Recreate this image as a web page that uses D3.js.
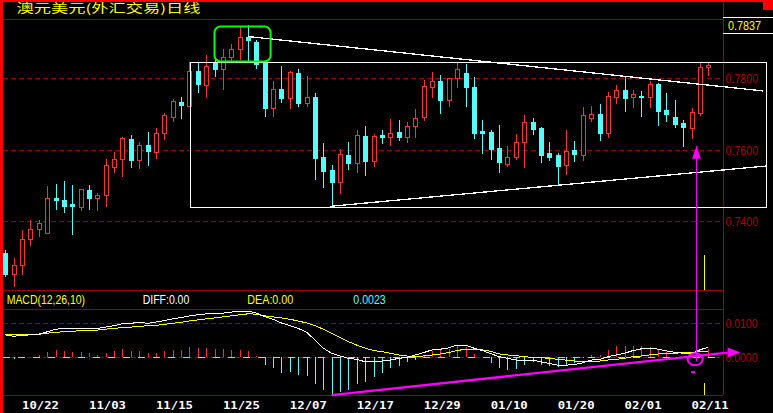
<!DOCTYPE html>
<html><head><meta charset="utf-8">
<script src="https://cdn.jsdelivr.net/npm/d3@7/dist/d3.min.js"></script>
<style>html,body{margin:0;padding:0;background:#000;overflow:hidden}svg{display:block}</style>
</head><body>
<svg id="c" width="773" height="413"></svg>
<script>
// ---------------- data ----------------
const title = "澳元美元(外汇交易)日线";
const lastPrice = "0.7837";
const dateLabels = ["10/22","11/03","11/15","11/25","12/07","12/17","12/29","01/10","01/20","02/01","02/11"];
const dateIdx = [2,10,18,26,34,42,50,58,66,74,82];
const priceTicks = [0.78,0.76,0.74];
const macdTicks = [0.01,0];
const open = [0.7310,0.7252,0.7277,0.7350,0.7378,0.7366,0.7464,0.7459,0.7448,0.7439,
0.7487,0.7464,0.7473,0.7551,0.7573,0.7629,0.7571,0.7613,0.7593,0.7646,
0.7691,0.7733,0.7722,0.7820,0.7780,0.7842,0.7825,0.7859,0.7881,0.7915,
0.7901,0.7842,0.7716,0.7769,0.7744,0.7814,0.7730,0.7747,0.7579,0.7543,
0.7509,0.7585,0.7562,0.7638,0.7568,0.7641,0.7635,0.7649,0.7635,0.7666,
0.7691,0.7775,0.7792,0.7738,0.7800,0.7814,0.7775,0.7652,0.7649,0.7604,
0.7559,0.7579,0.7621,0.7677,0.7660,0.7590,0.7585,0.7557,0.7599,0.7585,
0.7688,0.7699,0.7646,0.7747,0.7766,0.7747,0.7750,0.7747,0.7783,0.7710,
0.7691,0.7674,0.7660,0.7702,0.7831];
const high = [0.7319,0.7297,0.7375,0.7403,0.7403,0.7498,0.7503,0.7512,0.7501,0.7490,
0.7501,0.7478,0.7573,0.7593,0.7635,0.7641,0.7621,0.7649,0.7660,0.7702,
0.7741,0.7747,0.7845,0.7842,0.7864,0.7856,0.7881,0.7895,0.7943,0.7948,
0.7906,0.7845,0.7792,0.7834,0.7820,0.7825,0.7806,0.7758,0.7618,0.7557,
0.7601,0.7621,0.7655,0.7666,0.7643,0.7655,0.7685,0.7683,0.7677,0.7713,
0.7794,0.7817,0.7808,0.7800,0.7845,0.7839,0.7803,0.7683,0.7655,0.7669,
0.7610,0.7643,0.7696,0.7688,0.7663,0.7621,0.7590,0.7655,0.7624,0.7719,
0.7722,0.7727,0.7761,0.7780,0.7803,0.7766,0.7764,0.7792,0.7786,0.7758,
0.7738,0.7683,0.7716,0.7842,0.7845];
const low = [0.7246,0.7218,0.7252,0.7333,0.7358,0.7366,0.7434,0.7425,0.7364,0.7431,
0.7434,0.7431,0.7442,0.7537,0.7526,0.7551,0.7548,0.7557,0.7576,0.7629,
0.7680,0.7688,0.7722,0.7761,0.7747,0.7806,0.7769,0.7848,0.7853,0.7845,
0.7828,0.7694,0.7694,0.7733,0.7716,0.7722,0.7722,0.7517,0.7495,0.7439,
0.7478,0.7545,0.7537,0.7529,0.7554,0.7618,0.7613,0.7627,0.7621,0.7635,
0.7683,0.7747,0.7702,0.7722,0.7775,0.7722,0.7632,0.7590,0.7573,0.7537,
0.7554,0.7573,0.7551,0.7643,0.7565,0.7571,0.7501,0.7531,0.7568,0.7571,
0.7680,0.7627,0.7635,0.7730,0.7708,0.7719,0.7694,0.7719,0.7669,0.7680,
0.7663,0.7610,0.7632,0.7696,0.7808];
const close = [0.7252,0.7277,0.7350,0.7378,0.7394,0.7464,0.7459,0.7442,0.7442,0.7490,
0.7464,0.7473,0.7557,0.7573,0.7632,0.7571,0.7613,0.7596,0.7646,0.7696,
0.7736,0.7724,0.7820,0.7783,0.7834,0.7825,0.7859,0.7881,0.7915,0.7906,
0.7839,0.7716,0.7769,0.7744,0.7817,0.7730,0.7747,0.7576,0.7540,0.7509,
0.7587,0.7562,0.7641,0.7568,0.7638,0.7635,0.7646,0.7635,0.7666,0.7688,
0.7778,0.7792,0.7738,0.7800,0.7825,0.7775,0.7646,0.7646,0.7601,0.7565,
0.7579,0.7621,0.7677,0.7657,0.7585,0.7579,0.7554,0.7596,0.7587,0.7696,
0.7699,0.7646,0.7750,0.7766,0.7744,0.7755,0.7747,0.7783,0.7708,0.7699,
0.7671,0.7663,0.7705,0.7831,0.7837];
const diff = [0.0065,0.0061,0.0064,0.0065,0.0067,0.0074,0.0082,0.0083,0.0084,0.0084,
0.0084,0.0084,0.0088,0.0092,0.0098,0.0099,0.0102,0.0099,0.0103,0.0107,
0.0112,0.0116,0.0121,0.0124,0.0127,0.0129,0.0129,0.0132,0.0135,0.0135,
0.0129,0.0119,0.0111,0.0100,0.0092,0.0084,0.0073,0.0050,0.0026,0.0011,
0.0003,-0.0004,-0.0007,-0.0014,-0.0014,-0.0012,-0.0009,-0.0004,-0.0001,0.0006,
0.0013,0.0021,0.0023,0.0027,0.0035,0.0035,0.0026,0.0019,0.0010,0.0001,
-0.0004,-0.0009,-0.0009,-0.0009,-0.0014,-0.0019,-0.0024,-0.0024,-0.0022,-0.0017,
-0.0009,-0.0007,0.0001,0.0006,0.0011,0.0019,0.0024,0.0026,0.0023,0.0018,
0.0014,0.0011,0.0011,0.0021,0.0029];
const dea = [0.0067,0.0067,0.0067,0.0067,0.0067,0.0070,0.0073,0.0074,0.0076,0.0077,
0.0079,0.0079,0.0082,0.0084,0.0087,0.0088,0.0090,0.0092,0.0093,0.0096,
0.0099,0.0102,0.0106,0.0109,0.0112,0.0115,0.0118,0.0121,0.0124,0.0127,
0.0126,0.0121,0.0118,0.0115,0.0111,0.0106,0.0100,0.0092,0.0082,0.0070,
0.0057,0.0045,0.0035,0.0026,0.0019,0.0016,0.0011,0.0006,0.0003,0.0001,
0.0003,0.0006,0.0009,0.0013,0.0019,0.0023,0.0023,0.0021,0.0017,0.0009,
0.0006,0.0004,0.0001,-0.0001,-0.0002,-0.0004,-0.0007,-0.0009,-0.0012,-0.0014,
-0.0012,-0.0012,-0.0009,-0.0007,-0.0004,0.0001,0.0003,0.0006,0.0009,0.0011,
0.0011,0.0013,0.0013,0.0016,0.0016];
const macd = [0,-0.0005,0,0,0.0006,0.0015,0.0020,0.0017,0.0015,0.0015,
0.0012,0.0006,0.0012,0.0017,0.0024,0.0018,0.0018,0.0012,0.0012,0.0018,
0.0021,0.0021,0.0029,0.0026,0.0026,0.0024,0.0024,0.0021,0.0021,0.0018,
0.0003,-0.0024,-0.0033,-0.0046,-0.0043,-0.0053,-0.0055,-0.0079,-0.0097,-0.0110,
-0.0104,-0.0097,-0.0079,-0.0073,-0.0058,-0.0046,-0.0031,-0.0025,-0.0016,-0.0008,
0.0007,0.0018,0.0020,0.0024,0.0034,0.0030,0.0008,0,-0.0019,-0.0032,
-0.0037,-0.0035,-0.0023,-0.0016,-0.0023,-0.0025,-0.0029,-0.0023,-0.0017,-0.0003,
0.0006,0.0006,0.0021,0.0032,0.0032,0.0032,0.0032,0.0029,0.0022,0.0016,
-0.0003,0,0,0.0008,0.0023];
// annotation anchors (candle index, value)
const boxCorners = [[22.1,0.7844],[90.9,0.7439]];
const greenCorners = [[25.0,0.7944],[31.7,0.7846]];
const upperTrend = [[29.0,0.7916],[90.5,0.7764]];
const lowerTrend = [[38.8,0.7441],[91.0,0.7554]];
const macdTrend = [[39.0,-0.0112],[86.3,0.0013]];
const arrowIdx = 82.55, arrowTip = 0.7610, arrowBase = 0.7574, circleVal = -0.00065;
const yellowIdx = 83.5, yellowMainTop = 0.7305, yellowMacdTop = -0.0077;

// ---------------- drawing ----------------
const W = 773, H = 413;
const RED = "#ff3232", CYAN = "#54fcfc", DR = "#a00000", YEL = "#ffff00", MAG = "#ff00ff";
const svg = d3.select("#c");
svg.append("rect").attr("width", W).attr("height", H).attr("fill", "#000");

const x = d3.scaleLinear().domain([0, 84]).range([5.3, 708.3]);
const yP = d3.scaleLinear().domain([0.74, 0.78]).range([221, 78]);
const yM = d3.scaleLinear().domain([0, 0.01]).range([357, 323]);
const px = i => Math.round(x(i));

const frame = svg.append("g").attr("shape-rendering", "crispEdges");
// solid panel lines
[19, 290, 309, 395].forEach(y => frame.append("line").attr("x1", 3).attr("x2", 723).attr("y1", y + 0.5).attr("y2", y + 0.5).attr("stroke", DR));
frame.append("line").attr("x1", 723.5).attr("x2", 723.5).attr("y1", 0).attr("y2", 395).attr("stroke", DR);
// dashed grids
priceTicks.forEach(t => {
  const y = Math.round(yP(t)) + 0.5;
  frame.append("line").attr("x1", 3).attr("x2", 723).attr("y1", y).attr("y2", y).attr("stroke", DR).attr("stroke-dasharray", "5,3");
});
macdTicks.forEach(t => {
  const y = Math.round(yM(t)) + 0.5;
  frame.append("line").attr("x1", 3).attr("x2", 723).attr("y1", y).attr("y2", y).attr("stroke", DR).attr("stroke-dasharray", "5,3");
});
// cyan zero axis segments
frame.append("line").attr("x1", 3).attr("x2", 723).attr("y1", Math.round(yM(0)) + 0.5).attr("y2", Math.round(yM(0)) + 0.5)
  .attr("stroke", CYAN).attr("stroke-dasharray", "7,8");

// axis labels (right)
const axisFont = "'Liberation Sans', Arial, sans-serif";
priceTicks.forEach(t => {
  svg.append("text").attr("x", 725.5).attr("y", yP(t) + 5).attr("fill", "#b00000")
    .attr("font-family", axisFont).attr("font-size", 12.5)
    .attr("textLength", 32.6).attr("lengthAdjust", "spacingAndGlyphs").text(t.toFixed(4));
});
macdTicks.forEach(t => {
  svg.append("text").attr("x", 725.5).attr("y", yM(t) + 5).attr("fill", "#b00000")
    .attr("font-family", axisFont).attr("font-size", 12.5)
    .attr("textLength", 32).attr("lengthAdjust", "spacingAndGlyphs").text(t.toFixed(4));
});

// last price box
frame.append("line").attr("x1", 723).attr("x2", 773).attr("y1", 17.5).attr("y2", 17.5).attr("stroke", "#fff");
frame.append("line").attr("x1", 723).attr("x2", 773).attr("y1", 33.5).attr("y2", 33.5).attr("stroke", "#fff");
svg.append("text").attr("x", 728).attr("y", 30).attr("fill", YEL).attr("font-family", axisFont).attr("font-size", 12.5)
  .attr("textLength", 33).attr("lengthAdjust", "spacingAndGlyphs").text(lastPrice);

// title
svg.append("text").attr("x", 16.5).attr("y", 12.5).attr("fill", YEL)
  .attr("font-family", "'Noto Sans CJK SC', sans-serif").attr("font-size", 12)
  .attr("textLength", 184).attr("lengthAdjust", "spacingAndGlyphs").text(title);

// candles
const cg = svg.append("g").attr("shape-rendering", "crispEdges");
d3.range(open.length).forEach(i => {
  const cx = px(i);
  const up = close[i] > open[i];
  const col = up ? RED : CYAN;
  const yH = Math.round(yP(high[i])), yL = Math.round(yP(low[i]));
  const yO = Math.round(yP(open[i])), yC = Math.round(yP(close[i]));
  const top = Math.min(yO, yC), bot = Math.max(yO, yC);
  cg.append("rect").attr("x", cx).attr("y", yH).attr("width", 1).attr("height", Math.max(1, yL - yH + 1)).attr("fill", col);
  cg.append("rect").attr("x", cx - 2).attr("y", top).attr("width", 5).attr("height", Math.max(1, bot - top + 1)).attr("fill", col);
  if (up && bot - top > 1) {
    cg.append("rect").attr("x", cx - 1).attr("y", top + 1).attr("width", 3).attr("height", bot - top - 1).attr("fill", "#000");
  }
});

// white box and trend lines
const ann = svg.append("g").attr("shape-rendering", "crispEdges");
ann.append("rect")
  .attr("x", Math.round(x(boxCorners[0][0])) + 0.5).attr("y", Math.round(yP(boxCorners[0][1])) + 0.5)
  .attr("width", Math.round(x(boxCorners[1][0])) - Math.round(x(boxCorners[0][0])))
  .attr("height", Math.round(yP(boxCorners[1][1])) - Math.round(yP(boxCorners[0][1])))
  .attr("fill", "none").attr("stroke", "#fff").attr("stroke-width", 1.3);
const lineP = d3.line().x(d => x(d[0])).y(d => yP(d[1]));
ann.append("path").attr("d", lineP(upperTrend)).attr("stroke", "#fff").attr("stroke-width", 1.3).attr("fill", "none");
ann.append("path").attr("d", lineP(lowerTrend)).attr("stroke", "#fff").attr("stroke-width", 1.3).attr("fill", "none");

// green rounded box
svg.append("rect")
  .attr("x", x(greenCorners[0][0])).attr("y", yP(greenCorners[0][1]))
  .attr("width", x(greenCorners[1][0]) - x(greenCorners[0][0]))
  .attr("height", yP(greenCorners[1][1]) - yP(greenCorners[0][1]))
  .attr("rx", 6).attr("ry", 6).attr("fill", "none").attr("stroke", "#00ff00").attr("stroke-width", 2);

// MACD histogram
const mg = svg.append("g").attr("shape-rendering", "crispEdges");
const y0 = Math.round(yM(0));
macd.forEach((v, i) => {
  if (v === 0) return;
  const yv = Math.round(yM(v));
  mg.append("rect").attr("x", px(i)).attr("y", Math.min(yv, y0)).attr("width", 1)
    .attr("height", Math.max(1, Math.abs(yv - y0))).attr("fill", v > 0 ? RED : CYAN);
});
// DIFF / DEA
const lineM = d3.line().x((d, i) => x(i)).y(d => yM(d));
mg.append("path").attr("d", lineM(dea)).attr("stroke", YEL).attr("fill", "none").attr("stroke-width", 1);
mg.append("path").attr("d", lineM(diff)).attr("stroke", "#fff").attr("fill", "none").attr("stroke-width", 1);

// MACD header
const hf = "'Liberation Sans', Arial, sans-serif";
[["MACD(12,26,10)", 6.7, 78.3, YEL], ["DIFF:0.00", 142.7, 46.6, "#fff"], ["DEA:0.00", 247.3, 46, YEL], ["0.0023", 353.3, 32.4, CYAN]]
  .forEach(([t, xx, len, c]) => svg.append("text").attr("x", xx).attr("y", 303.5).attr("fill", c)
    .attr("font-family", hf).attr("font-size", 12).attr("textLength", len).attr("lengthAdjust", "spacingAndGlyphs").text(t));

// date labels
dateLabels.forEach((d, k) => {
  svg.append("text").attr("x", x(dateIdx[k])).attr("y", 409).attr("fill", "#fff")
    .attr("font-family", "'DejaVu Sans Mono', monospace").attr("font-weight", "bold").attr("font-size", 11)
    .attr("textLength", 37).attr("lengthAdjust", "spacingAndGlyphs").text(d);
});

// magenta annotations
const ax = px(arrowIdx);
svg.append("line").attr("x1", ax + 0.5).attr("x2", ax + 0.5).attr("y1", yP(arrowTip)).attr("y2", yM(circleVal) + 2)
  .attr("stroke", MAG).attr("stroke-width", 1.2).attr("shape-rendering", "crispEdges");
svg.append("path").attr("d", `M${ax + 0.5},${yP(arrowTip)}L${ax + 5},${yP(arrowBase)}L${ax - 4},${yP(arrowBase)}Z`).attr("fill", MAG);
svg.append("ellipse").attr("cx", x(arrowIdx) - 1).attr("cy", yM(circleVal)).attr("rx", 7.5).attr("ry", 6)
  .attr("fill", "none").attr("stroke", MAG).attr("stroke-width", 2);
svg.append("rect").attr("x", ax - 5).attr("y", yM(circleVal) + 12).attr("width", 4).attr("height", 2).attr("fill", MAG);
svg.append("path").attr("d", d3.line().x(d => x(d[0])).y(d => yM(d[1]))(macdTrend))
  .attr("stroke", MAG).attr("stroke-width", 2.4).attr("fill", "none");
const tEnd = macdTrend[1];
const tx = x(tEnd[0]), ty = yM(tEnd[1]);
svg.append("path").attr("d", `M${tx},${ty - 5}L${tx + 13},${ty}L${tx},${ty + 5}Z`).attr("fill", MAG);

// yellow marker segments
const yx = px(yellowIdx) + 0.5;
svg.append("line").attr("x1", yx).attr("x2", yx).attr("y1", yP(yellowMainTop)).attr("y2", 290).attr("stroke", YEL).attr("shape-rendering", "crispEdges");
svg.append("line").attr("x1", yx).attr("x2", yx).attr("y1", yM(yellowMacdTop)).attr("y2", 395).attr("stroke", YEL).attr("shape-rendering", "crispEdges");

// borders
svg.append("rect").attr("x", 0).attr("y", 0).attr("width", 3).attr("height", H).attr("fill", "#ff0000");
svg.append("rect").attr("x", 0).attr("y", 0).attr("width", W).attr("height", 2).attr("fill", "#ff0000");
svg.append("rect").attr("x", 763).attr("y", 0).attr("width", 10).attr("height", 10).attr("fill", "#ff0000");
</script>
</body></html>
